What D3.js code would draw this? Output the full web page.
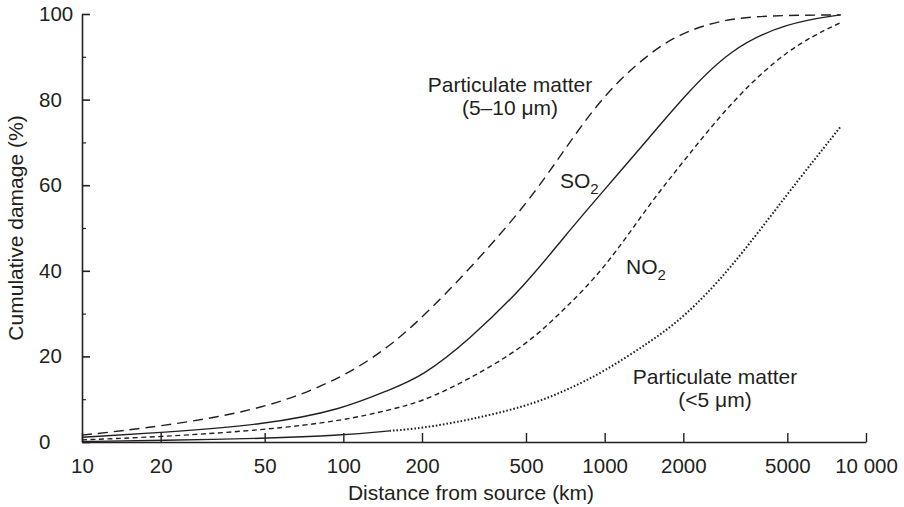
<!DOCTYPE html>
<html>
<head>
<meta charset="utf-8">
<script src="https://cdn.jsdelivr.net/npm/d3@7"></script>
<style>
    body { margin: 0; background: #ffffff; }
    text { font-family: "Liberation Sans", Arial, Helvetica, sans-serif; fill: #231f20; }
</style>
</head>
<body>
<div id="chart"></div>
<script>
// distance from source (km) and cumulative damage (%)
const distance = [10, 20, 50, 100, 150, 200, 300, 500, 700, 1000, 1500, 2000, 3000, 5000, 8000];
const pm10 = [1.6, 3.6, 7.6, 15, 22.3, 29, 40, 55.3, 68.2, 81.5, 91.2, 95.8, 99.2, 99.7, 99.8];
const so2 = [1.1, 2.2, 4.0, 7.7, 12.2, 15.3, 23.6, 36.8, 48, 59, 71.5, 80.5, 91.8, 98, 99.8];
const no2 = [0.5, 1.2, 2.8, 5.0, 7.5, 9.4, 14.5, 22.5, 31, 40.5, 56, 65.5, 79, 92, 98];
const pm5 = [0.1, 0.4, 0.8, 1.6, 2.6, 3.2, 5.1, 8.3, 11.8, 16.5, 23.5, 29, 40, 58, 73.7];
// pm5 is drawn solid up to this distance, dotted after it
const pm5Switch = 150;

const xTicks = [10, 20, 50, 100, 200, 500, 1000, 2000, 5000, 10000];
const yTicks = [0, 20, 40, 60, 80, 100];
const yMinor = [10, 30, 50, 70, 90];

const svg = d3.select("#chart")
    .append("svg")
    .attr("width", 904)
    .attr("height", 507);

const x = d3.scaleLog().domain([10, 10000]).range([82, 866]);
const y = d3.scaleLinear().domain([0, 100]).range([442, 14]);

const ink = "#231f20";

// x axis, ticks pointing inward
const xAxis = svg.append("g")
    .attr("transform", "translate(0,442)")
    .call(d3.axisBottom(x)
        .tickValues(xTicks)
        .tickSizeInner(-9)
        .tickSizeOuter(0)
        .tickPadding(16)
        .tickFormat(function (d) { return d === 10000 ? "10 000" : String(d); }));
xAxis.select(".domain").attr("stroke", ink).attr("stroke-width", 1.6);
xAxis.selectAll(".tick line").attr("stroke", ink).attr("stroke-width", 1.4);
xAxis.selectAll(".tick text").style("font-size", "20.5px").attr("fill", ink);

// y axis, labels left aligned like the original
const yAxis = svg.append("g")
    .attr("transform", "translate(82,0)")
    .call(d3.axisLeft(y)
        .tickValues(yTicks)
        .tickSizeInner(-8)
        .tickSizeOuter(0)
        .tickFormat(d3.format("d")));
yAxis.select(".domain").attr("stroke", ink).attr("stroke-width", 1.6);
yAxis.selectAll(".tick line").attr("stroke", ink).attr("stroke-width", 1.6);
yAxis.selectAll(".tick text")
    .style("font-size", "20.5px")
    .attr("fill", ink)
    .attr("x", -43)
    .attr("text-anchor", "start");

const yAxisMinor = svg.append("g")
    .attr("transform", "translate(82,0)")
    .call(d3.axisLeft(y).tickValues(yMinor).tickSizeInner(-4).tickSizeOuter(0).tickFormat(""));
yAxisMinor.select(".domain").remove();
yAxisMinor.selectAll(".tick line").attr("stroke", ink).attr("stroke-width", 1.2);

// axis titles
svg.append("text").attr("x", 471).attr("y", 500).attr("text-anchor", "middle")
    .style("font-size", "21px").text("Distance from source (km)");
svg.append("text").attr("transform", "translate(23,228) rotate(-90)").attr("text-anchor", "middle")
    .style("font-size", "21px").text("Cumulative damage (%)");

// curves (b-spline keeps them smooth like the printed ones)
const line = d3.line()
    .x(function (d) { return x(d[0]); })
    .y(function (d) { return y(d[1]); })
    .curve(d3.curveBasis);

function pairs(vals) {
    return distance.map(function (d, i) { return [d, vals[i]]; });
}

const pm5Pairs = pairs(pm5);
const series = [
    { pts: pairs(pm10), dash: "10,6", width: 1.4 },
    { pts: pairs(so2), dash: null, width: 1.4 },
    { pts: pairs(no2), dash: "5,3.5", width: 1.4 },
    { pts: pm5Pairs.filter(function (d) { return d[0] <= pm5Switch; }), dash: null, width: 1.4 },
    { pts: pm5Pairs.filter(function (d) { return d[0] >= pm5Switch; }), dash: "1.6,2", width: 2 }
];

svg.append("g")
    .selectAll("path")
    .data(series)
    .join("path")
    .attr("d", function (d) { return line(d.pts); })
    .attr("fill", "none")
    .attr("stroke", ink)
    .attr("stroke-width", function (d) { return d.width; })
    .attr("stroke-dasharray", function (d) { return d.dash; });

// curve labels
svg.append("text").attr("x", 510).attr("y", 92).attr("text-anchor", "middle")
    .style("font-size", "21px").text("Particulate matter");
svg.append("text").attr("x", 510).attr("y", 115).attr("text-anchor", "middle")
    .style("font-size", "21px").text("(5\u201310 \u03bcm)");

svg.append("text").attr("x", 715).attr("y", 384).attr("text-anchor", "middle")
    .style("font-size", "21px").text("Particulate matter");
svg.append("text").attr("x", 715).attr("y", 407).attr("text-anchor", "middle")
    .style("font-size", "21px").text("(<5 \u03bcm)");

const so2Label = svg.append("text").attr("x", 560).attr("y", 188).style("font-size", "21px");
so2Label.append("tspan").text("SO");
so2Label.append("tspan").attr("dy", 6).style("font-size", "15px").text("2");

const no2Label = svg.append("text").attr("x", 626).attr("y", 274).style("font-size", "21px");
no2Label.append("tspan").text("NO");
no2Label.append("tspan").attr("dy", 6).style("font-size", "15px").text("2");
</script>
</body>
</html>
